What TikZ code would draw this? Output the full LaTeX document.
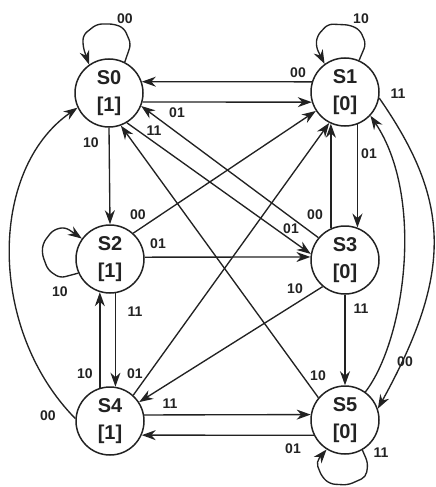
\documentclass[tikz,border=0pt]{standalone}
\usepackage{fontspec}
\setmainfont{Liberation Sans}
\usetikzlibrary{arrows.meta}
\definecolor{ink}{HTML}{222222}
\begin{document}
\begin{tikzpicture}[x=1pt,y=-1pt,
  state/.style={circle,draw=ink,line width=1.5pt,minimum size=68pt,inner sep=0pt,
    align=center,font=\fontsize{20}{27.5}\selectfont\bfseries,text=ink},
  lbl/.style={font=\fontsize{14}{15}\selectfont\bfseries,text=ink,inner sep=0pt},
  tr/.style={draw=ink,line width=1.35pt,-{Stealth[length=14pt,width=10pt,inset=4.5pt]}},
  loopy/.style={tr,rounded corners=5pt}]
\useasboundingbox (0,0) rectangle (436,487);

% states
\node[state] (S0) at (109,93)  {S0\\{[1]}};
\node[state] (S1) at (345,92)  {S1\\{[0]}};
\node[state] (S2) at (110,259) {S2\\{[1]}};
\node[state] (S3) at (345,260) {S3\\{[0]}};
\node[state] (S4) at (110,421) {S4\\{[1]}};
\node[state] (S5) at (345,420) {S5\\{[0]}};

% self loops
\draw[loopy] (S0.63) -- (131,44) -- (124,28) -- (114,24) -- (97,24) -- (83,35) -- (83,47) -- (S0.125);
\draw[loopy] (S1.66) -- (366,44) -- (360,30) -- (350,25) -- (328,24) -- (317,36) -- (316,47) -- (S1.126);
\draw[loopy] (S2.204) -- (60,278) -- (48,270) -- (42,254) -- (43,243) -- (53,230) -- (65,227) -- (S2.144);
\draw[loopy] (S5.-60) -- (368,463) -- (366,477) -- (348,485) -- (330,484) -- (322,477) -- (316,462) -- (S5.-122);

% straight transitions
\draw[tr] (S1.163) -- (S0.19);
\draw[tr] (S0.-15) -- (S1.197);
\draw[tr] (S0.south) -- (S2.north);
\draw[tr] (S0.-59) -- (S3.170);
\draw[tr] (S3.140) -- (S0.-22);
\draw[tr] (S5.140) -- (S0.-70);
\draw[tr] (S2.48.5) -- (S1.213);
\draw[tr] (S4.48.5) -- (S1.243);
\draw[tr] (S3.114) -- (S1.246);
\draw[tr] (S1.-69) -- (S3.69);
\draw[tr] (S2.3) -- (S3.175);
\draw[tr] (S2.-81.5) -- (S4.81.5);
\draw[tr] (S4.107) -- (S2.-107);
\draw[tr] (S3.230) -- (S4.33);
\draw[tr] (S3.south) -- (S5.north);
\draw[tr] (S4.10) -- (S5.171);
\draw[tr] (S5.206) -- (S4.-24);

% curved transitions
\draw[tr] (S4.176) .. controls (-12,330) and (-12,170) .. (S0.205);
\draw[tr] (S5.54.5) .. controls (405,340) and (425,197) .. (S1.-43);
\draw[tr] (S1.-10) .. controls (450,200) and (454,271) .. (S5.19);

% input labels
\node[lbl] (a1) at (125,19) {00};
\node[lbl] (a2) at (361,19) {10};
\node[lbl] (a3) at (298,73) {00};
\node[lbl] (a4) at (177,113) {01};
\node[lbl] (a5) at (154,131) {11};
\node[lbl] (a6) at (91,143) {10};
\node[lbl] (a7) at (398,94) {11};
\node[lbl] (a8) at (369,154) {01};
\node[lbl] (a9) at (138,215) {00};
\node[lbl] (a10) at (158,244) {01};
\node[lbl] (a11) at (60,292) {10};
\node[lbl] (a12) at (135,312) {11};
\node[lbl] (a13) at (315,215) {00};
\node[lbl] (a14) at (291,229) {01};
\node[lbl] (a15) at (295,289) {10};
\node[lbl] (a16) at (361,309) {11};
\node[lbl] (a17) at (85,374) {10};
\node[lbl] (a18) at (135,374) {01};
\node[lbl] (a19) at (48,416) {00};
\node[lbl] (a20) at (170,404) {11};
\node[lbl] (a21) at (318,376) {10};
\node[lbl] (a22) at (405,362) {00};
\node[lbl] (a23) at (293,449) {01};
\node[lbl] (a24) at (381,453) {11};
\end{tikzpicture}
\end{document}
